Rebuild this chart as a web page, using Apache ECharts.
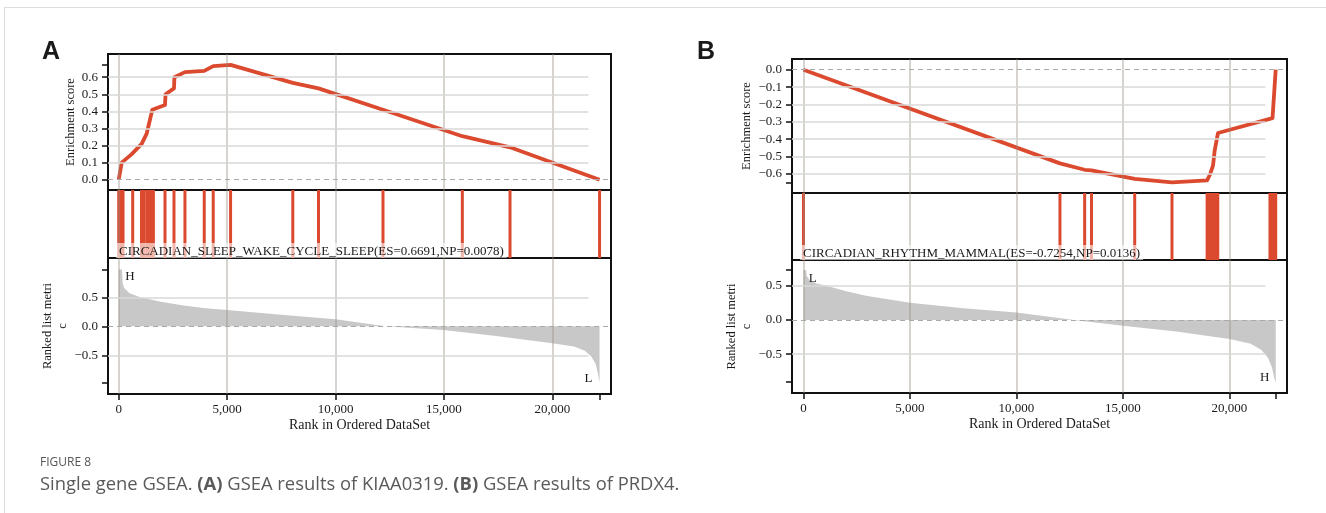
<!DOCTYPE html>
<html><head><meta charset="utf-8">
<script src="https://cdn.jsdelivr.net/npm/echarts@6/dist/echarts.min.js"></script>
<style>html,body{margin:0;padding:0;background:#fff}#c{width:1326px;height:513px}</style>
</head><body><div id="c"></div>
<script>
// ---------- shared ----------
const xTicks = [0, 5000, 10000, 15000, 20000];
const metricLabelTicks = [-0.5, 0, 0.5];

// ---------- Panel A (KIAA0319) ----------
const nGenesA = 22180;
const esA_rank = [0, 140, 600, 1060, 1290, 1550, 2135, 2160, 2550, 2570, 3055, 3945, 4360, 5160, 8030, 9215, 12190, 15850, 18050, 22180];
const esA_val  = [0.0, 0.10, 0.15, 0.21, 0.27, 0.41, 0.437, 0.50, 0.535, 0.60, 0.63, 0.637, 0.665, 0.672, 0.567, 0.535, 0.41, 0.255, 0.19, 0.0];
const hitsA = [0, 120, 200, 645, 1050, 1150, 1290, 1400, 1500, 1600, 2135, 2550, 3055, 3945, 4360, 5160, 8030, 9215, 12190, 15850, 18050, 22180];
const metricA_rank = [0, 150, 180, 250, 500, 1000, 2000, 3000, 4000, 5000, 7500, 10000, 12300, 15000, 17500, 20000, 21000, 21500, 21800, 22000, 22100, 22180];
const metricA_val  = [0.98, 0.98, 0.75, 0.66, 0.57, 0.50, 0.42, 0.36, 0.31, 0.28, 0.20, 0.12, 0.0, -0.063, -0.17, -0.29, -0.35, -0.42, -0.52, -0.65, -0.80, -0.97];
const esA_labelTicks = [0, 0.1, 0.2, 0.3, 0.4, 0.5, 0.6];
const titleA = 'CIRCADIAN_SLEEP_WAKE_CYCLE_SLEEP(ES=0.6691,NP=0.0078)';
const headA = 'H', tailA = 'L';

// ---------- Panel B (PRDX4) ----------
const nGenesB = 22170;
const esB_rank = [0, 12040, 13200, 13520, 15550, 17300, 18950, 19100, 19230, 19300, 19460, 22020, 22170];
const esB_val  = [0.0, -0.54, -0.577, -0.58, -0.63, -0.65, -0.638, -0.60, -0.55, -0.47, -0.365, -0.279, 0.0];
const hitsB = [0, 12040, 13200, 13520, 15550, 17300, 18950, 19050, 19150, 19250, 19350, 19450, 21900, 22000, 22100, 22170];
const metricB_rank = [0, 120, 150, 300, 600, 1080, 2000, 3000, 5000, 7500, 10000, 12700, 15000, 17500, 20000, 21000, 21500, 21800, 22000, 22100, 22170];
const metricB_val  = [0.73, 0.73, 0.64, 0.58, 0.53, 0.50, 0.42, 0.35, 0.25, 0.17, 0.107, 0.0, -0.087, -0.17, -0.28, -0.35, -0.44, -0.55, -0.70, -0.85, -0.91];
const esB_labelTicks = [0, -0.1, -0.2, -0.3, -0.4, -0.5, -0.6];
const titleB = 'CIRCADIAN_RHYTHM_MAMMAL(ES=-0.7254,NP=0.0136)';
const headB = 'L', tailB = 'H';

const caption1 = 'FIGURE 8';
const caption2 = 'Single gene GSEA. {b|(A)} GSEA results of KIAA0319. {b|(B)} GSEA results of PRDX4.';

// ---------- styling / layout ----------
const RED = '#db4a2f';
const SERIF = '"Liberation Serif", "DejaVu Serif", serif';
const fmtY = v => (v < 0 ? '\u2212' : '') + Math.abs(v).toFixed(1);
const fmtX = v => v === 0 ? '0' : v.toLocaleString('en-US');
const zip = (a, b) => a.map((v, i) => [v, b[i]]);

const panels = [
  { left: 108, width: 503, tops: [54, 190, 258, 394], xMin: -494, xMax: 22708, hEnd: 21670,
    esY: [-0.060, 0.736], mY: [-1.167, 1.178], n: nGenesA,
    es: zip(esA_rank, esA_val), hits: hitsA, metric: zip(metricA_rank, metricA_val),
    esLabels: esA_labelTicks, title: titleA, head: headA, tail: tailA,
    headPos: [520, 0.86], tailPos: [21670, -0.90],
    nameGapTop: 27, nameGapBot: 27, letter: 'A', letterX: 42 },
  { left: 792, width: 495, tops: [59, 193, 260, 393], xMin: -540, xMax: 22700, hEnd: 21690,
    esY: [-0.711, 0.062], mY: [-1.068, 0.875], n: nGenesB,
    es: zip(esB_rank, esB_val), hits: hitsB, metric: zip(metricB_rank, metricB_val),
    esLabels: esB_labelTicks, title: titleB, head: headB, tail: tailB,
    headPos: [430, 0.61], tailPos: [21650, -0.85],
    nameGapTop: 30, nameGapBot: 25, letter: 'B', letterX: 697 }
];

const grid = [], xAxis = [], yAxis = [], series = [], graphic = [];
const vGridStyle = { color: 'rgba(150,140,130,0.5)', width: 1.5, type: 'solid' };
const hGridStyle = { color: '#d9d9d9', width: 1.5, type: 'solid' };
const zeroStyle = { color: '#aaaaaa', width: 1.2, type: [5, 4] };

function gridLines(p, yVals, withZero) {
  const data = xTicks.map(v => ({ xAxis: v, lineStyle: vGridStyle }));
  yVals.filter(v => v !== 0).forEach(v => data.push([{ coord: [p.xMin, v], lineStyle: hGridStyle }, { coord: [p.hEnd, v] }]));
  if (withZero) data.push({ yAxis: 0, lineStyle: zeroStyle });
  return { silent: true, symbol: ['none', 'none'], label: { show: false }, animation: false, data };
}

panels.forEach((p, pi) => {
  const base = pi * 3;
  for (let k = 0; k < 3; k++) {
    const top = p.tops[k], h = p.tops[k + 1] - p.tops[k];
    grid.push({ left: p.left, top, width: p.width, height: h, show: true, borderColor: '#111', borderWidth: 2, backgroundColor: 'transparent' });
    const bottom = k === 2;
    xAxis.push({
      gridIndex: base + k, type: 'value', min: p.xMin, max: p.xMax,
      axisLine: { show: false, onZero: false },
      axisTick: { show: bottom, customValues: xTicks.concat([p.n]), length: 6, lineStyle: { color: '#111', width: 1.5 } },
      axisLabel: { show: bottom, customValues: xTicks, formatter: fmtX, fontFamily: SERIF, fontSize: 13, color: '#1a1a1a', margin: 9 },
      splitLine: { show: false },
      name: bottom ? 'Rank in Ordered DataSet' : '', nameLocation: 'middle', nameGap: 24,
      nameTextStyle: { fontFamily: SERIF, fontSize: 14, color: '#1a1a1a' }
    });
  }
  const esVals = p.es.map(d => d[1]);
  const esExtreme = pi === 0 ? Math.max(...esVals) : Math.min(...esVals);
  const mVals = p.metric.map(d => d[1]);
  const yCommon = (gi, min, max, labels, ticks, name, gap) => ({
    gridIndex: gi, type: 'value', min, max,
    axisLine: { show: false, onZero: false },
    axisTick: { show: true, customValues: ticks, length: 6, lineStyle: { color: '#111', width: 1.5 } },
    axisLabel: { customValues: labels, formatter: fmtY, fontFamily: SERIF, fontSize: 13, color: '#1a1a1a', margin: 10 },
    splitLine: { show: false },
    name, nameLocation: 'middle', nameGap: gap,
    nameTextStyle: { fontFamily: SERIF, fontSize: 12.5, color: '#1a1a1a', lineHeight: 15 }
  });
  yAxis.push(yCommon(base, p.esY[0], p.esY[1], p.esLabels, p.esLabels.concat([esExtreme]), 'Enrichment score', p.nameGapTop));
  yAxis.push({ gridIndex: base + 1, type: 'value', min: 0, max: 1, show: false });
  yAxis.push(yCommon(base + 2, p.mY[0], p.mY[1], metricLabelTicks, metricLabelTicks.concat([Math.max(...mVals), Math.min(...mVals)]), 'Ranked list metri\nc', p.nameGapBot));

  // top: gridlines + ES curve
  series.push({ type: 'line', xAxisIndex: base, yAxisIndex: base, data: [], z: 1, markLine: gridLines(p, p.esLabels, true) });
  series.push({ type: 'line', xAxisIndex: base, yAxisIndex: base, data: p.es, showSymbol: false, z: 3,
    lineStyle: { color: RED, width: 3.8, join: 'round' }, itemStyle: { color: RED }, animation: false });
  // middle: gridlines + hits
  series.push({ type: 'line', xAxisIndex: base + 1, yAxisIndex: base + 1, data: [], z: 1, markLine: gridLines(p, [], false) });
  series.push({ type: 'bar', xAxisIndex: base + 1, yAxisIndex: base + 1, data: p.hits.map(r => [r, 1]), barWidth: 3, z: 3,
    itemStyle: { color: RED }, animation: false });
  // bottom: metric area + gridlines above it
  series.push({ type: 'line', xAxisIndex: base + 2, yAxisIndex: base + 2, data: p.metric, showSymbol: false, z: 2,
    lineStyle: { width: 0, color: '#c8c8c8' }, areaStyle: { color: '#c8c8c8', opacity: 1 }, itemStyle: { color: '#c8c8c8' }, animation: false,
    markPoint: { symbol: 'rect', symbolSize: [1, 1], itemStyle: { color: 'rgba(0,0,0,0)' }, animation: false,
      label: { show: true, position: 'inside', formatter: '{b}', fontFamily: SERIF, fontSize: 13, color: '#1a1a1a' },
      data: [{ name: p.head, coord: p.headPos }, { name: p.tail, coord: p.tailPos }] } });
  series.push({ type: 'line', xAxisIndex: base + 2, yAxisIndex: base + 2, data: [], z: 3, markLine: gridLines(p, metricLabelTicks, true) });

  graphic.push({ type: 'text', z: 50, style: { text: p.title, x: p.left + 8, y: p.tops[2], verticalAlign: 'bottom',
    font: '13px ' + SERIF, fill: '#1a1a1a', backgroundColor: 'rgba(255,255,255,0.6)', padding: [2, 3, 0, 3] } });
  graphic.push({ type: 'text', z: 50, style: { text: p.letter, x: p.letterX, y: 52, verticalAlign: 'middle',
    font: 'bold 25px "Liberation Sans", Arial, sans-serif', fill: '#1a1a1a' } });
});

graphic.push({ type: 'line', z: 50, shape: { x1: 4.5, y1: 7.5, x2: 1326, y2: 7.5 }, style: { stroke: '#dddddd', lineWidth: 1 } });
graphic.push({ type: 'line', z: 50, shape: { x1: 4.5, y1: 7.5, x2: 4.5, y2: 513 }, style: { stroke: '#dddddd', lineWidth: 1 } });
graphic.push({ type: 'text', z: 50, style: { text: caption1, x: 40, y: 463, verticalAlign: 'middle',
  font: '12px "Open Sans", sans-serif', fill: '#555555' } });
graphic.push({ type: 'text', z: 50, style: { text: caption2, x: 40, y: 485, verticalAlign: 'middle',
  font: '18.4px "Open Sans", sans-serif', fill: '#5a5a5a', rich: { b: { fontWeight: 'bold', fontSize: 18.4, fontFamily: '"Open Sans", sans-serif', fill: '#5a5a5a' } } } });

const chart = echarts.init(document.getElementById('c'), null, { renderer: 'canvas' });
chart.setOption({ animation: false, backgroundColor: '#fff', grid, xAxis, yAxis, series, graphic });
</script></body></html>
